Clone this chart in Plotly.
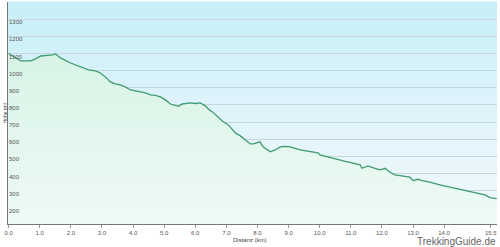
import plotly.graph_objects as go

# Elevation profile (distance in km, elevation in m)
dist_km = [0.0, 0.13, 0.39, 0.71, 0.87, 1.03, 1.41, 1.51, 1.67, 1.99, 2.31, 2.57, 2.79, 2.95,
           3.11, 3.27, 3.43, 3.59, 3.75, 3.92, 4.08, 4.24, 4.40, 4.56, 4.72, 4.88, 5.04,
           5.20, 5.36, 5.46, 5.58, 5.68, 5.84, 6.00, 6.16, 6.32, 6.42, 6.55, 6.74, 6.87,
           7.06, 7.19, 7.29, 7.45, 7.61, 7.77, 7.87, 8.02, 8.08, 8.18, 8.41, 8.57, 8.73,
           8.89, 9.05, 9.37, 9.69, 9.95, 10.01, 10.33, 10.65, 10.82, 10.98, 11.30, 11.36,
           11.55, 11.78, 11.94, 12.10, 12.26, 12.42, 12.58, 12.90, 13.00, 13.16, 13.29,
           13.54, 13.86, 14.18, 14.51, 14.83, 15.15, 15.31, 15.47, 15.69]
elev_m = [1100, 1085, 1056, 1056, 1068, 1085, 1091, 1097, 1074, 1044, 1021, 1004, 998, 986,
          963, 934, 922, 916, 905, 887, 881, 875, 870, 858, 855, 846, 829,
          805, 794, 791, 805, 808, 811, 808, 811, 794, 776, 759, 724, 706,
          683, 654, 636, 619, 596, 572, 572, 578, 584, 555, 526, 537, 555,
          558, 555, 537, 526, 520, 508, 492, 478, 470, 465, 450, 430,
          444, 430, 421, 430, 407, 392, 387, 378, 358, 366, 358,
          349, 333, 320, 308, 294, 285, 275, 259, 253]

x_tick_vals = [0, 1, 2, 3, 4, 5, 6, 7, 8, 9, 10, 11, 12, 13, 14, 15.5]
x_tick_text = ["0.0", "1.0", "2.0", "3.0", "4.0", "5.0", "6.0", "7.0", "8.0", "9.0",
               "10.0", "11.0", "12.0", "13.0", "14.0", "15.5"]
y_tick_vals = [200, 300, 400, 500, 600, 700, 800, 900, 1000, 1100, 1200, 1300]
y_range = [105, 1400]

fig = go.Figure()

fig.add_trace(go.Scatter(
    x=dist_km, y=elev_m, mode="lines",
    line=dict(color="#3f9a70", width=1.3),
    fill="tozeroy",
    fillgradient=dict(type="vertical", start=0, stop=1100,
                      colorscale=[[0, "#f0fbf7"], [1, "#d8f3e6"]]),
    hoverinfo="skip", showlegend=False,
))
# invisible helper trace so the label axis is drawn
fig.add_trace(go.Scatter(x=[dist_km[0]], y=[elev_m[0]], yaxis="y2", mode="lines",
                         line=dict(width=0), hoverinfo="skip", showlegend=False))

# background gradient bands (plot area)
def lerp(c1, c2, t):
    return tuple(round(a + (b - a) * t) for a, b in zip(c1, c2))

top = (198, 239, 247)
mid = (224, 243, 251)
bot = (240, 249, 252)
n = 40
shapes = []
for i in range(n):
    f = (i + 0.5) / n  # 0 bottom, 1 top
    if f > 0.5:
        c = lerp(mid, top, (f - 0.5) / 0.5)
    else:
        c = lerp(bot, mid, f / 0.5)
    shapes.append(dict(type="rect", xref="paper", yref="paper",
                       x0=0, x1=1, y0=i / n, y1=(i + 1) / n + 0.002,
                       fillcolor="rgb(%d,%d,%d)" % c, line=dict(width=0),
                       layer="below"))

fig.update_layout(
    width=500, height=247,
    margin=dict(l=8, r=3, t=2, b=23),
    paper_bgcolor="white",
    plot_bgcolor="rgba(0,0,0,0)",
    shapes=shapes,
    font=dict(family="Liberation Sans, Arial, sans-serif", color="#555"),
    xaxis=dict(range=[-0.02, 15.7], tickvals=x_tick_vals, ticktext=x_tick_text,
               showgrid=False, zeroline=False, showline=True, linecolor="#777",
               linewidth=1, ticks="outside", ticklen=3, tickcolor="#999",
               ticklabeloverflow="allow", automargin=False,
               tickfont=dict(size=6, color="#555")),
    yaxis=dict(range=y_range, tickvals=y_tick_vals, showgrid=True,
               gridcolor="#c6d6dc", gridwidth=1, zeroline=False, showline=True,
               linecolor="#777", linewidth=1, ticks="", showticklabels=False),
    yaxis2=dict(range=y_range, tickvals=y_tick_vals, overlaying="y", anchor="free",
                position=0, side="right", showgrid=False, zeroline=False,
                showline=False, ticks="", automargin=False,
                ticklabelshift=3, tickfont=dict(size=6, color="#555")),
    annotations=[
        dict(text="Distanz (km)", xref="paper", yref="paper", x=0.495, y=-0.072,
             xanchor="center", yanchor="middle", showarrow=False,
             font=dict(size=6, color="#444")),
        dict(text="Höhe (m)", xref="paper", yref="paper", x=0, y=0.5, xshift=-3.5,
             xanchor="center", yanchor="middle", textangle=-90, showarrow=False,
             borderpad=0,
             font=dict(size=5, color="#444")),
        dict(text="TrekkingGuide.de", xref="paper", yref="paper", x=1.0, y=-0.081,
             xanchor="right", yanchor="middle", showarrow=False, borderpad=0,
             font=dict(size=10, color="#666")),
    ],
)

fig.write_html("out.html")
